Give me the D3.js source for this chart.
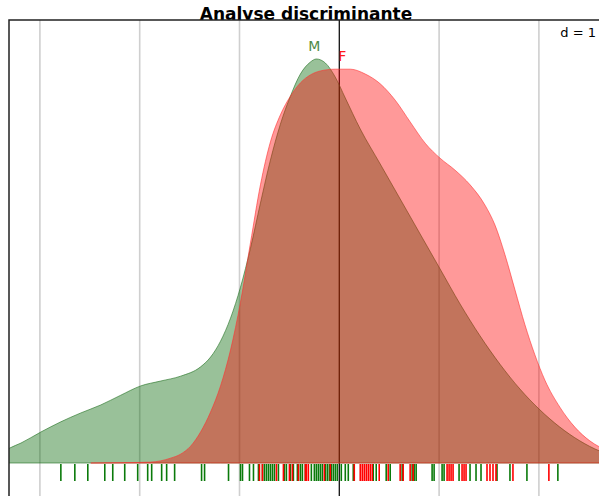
<!DOCTYPE html>
<html>
<head>
<meta charset="utf-8">
<script src="https://cdn.jsdelivr.net/npm/d3@7"></script>
<style>
  body{margin:0;background:#fff;}
  svg{display:block;}
</style>
</head>
<body>
<div id="chart"></div>
<script>
// group labels
var groups = ["M", "F"];
// density curves (x in score units, y in relative density)
var densM_x = [-3.40,-3.30,-3.19,-2.99,-2.79,-2.59,-2.39,-2.19,-1.99,-1.79,-1.59,-1.39,-1.29,-1.19,-1.09,-0.99,-0.89,-0.79,-0.69,-0.59,-0.49,-0.39,-0.29,-0.23,-0.14,-0.04,0.06,0.21,0.41,0.61,0.81,1.01,1.21,1.41,1.61,1.81,2.01,2.21,2.41,2.61,2.70];
var densM_y = [0.020,0.034,0.045,0.070,0.093,0.113,0.131,0.153,0.174,0.185,0.196,0.217,0.239,0.275,0.327,0.397,0.485,0.587,0.684,0.765,0.828,0.878,0.905,0.912,0.903,0.871,0.824,0.754,0.675,0.596,0.517,0.438,0.359,0.287,0.223,0.167,0.120,0.081,0.050,0.027,0.020];
var densF_x = [-2.49,-2.10,-1.89,-1.69,-1.59,-1.49,-1.39,-1.29,-1.19,-1.09,-0.99,-0.89,-0.79,-0.69,-0.59,-0.49,-0.39,-0.29,-0.19,-0.04,0.11,0.26,0.41,0.56,0.71,0.86,1.01,1.16,1.31,1.46,1.56,1.66,1.76,1.86,1.96,2.06,2.21,2.36,2.51,2.61,2.70];
var densF_y = [0.000,0.001,0.002,0.011,0.020,0.038,0.070,0.115,0.174,0.255,0.363,0.497,0.628,0.725,0.786,0.828,0.858,0.876,0.885,0.889,0.889,0.878,0.856,0.819,0.770,0.722,0.688,0.661,0.628,0.582,0.537,0.470,0.391,0.312,0.244,0.187,0.126,0.081,0.050,0.036,0.028];
// individual scores (rug)
var scoresM = [-2.79,-2.65,-2.52,-2.35,-2.27,-2.15,-2.02,-1.92,-1.88,-1.78,-1.73,-1.65,-1.38,-1.35,-1.11,-0.99,-0.97,-0.90,-0.86,-0.81,-0.77,-0.75,-0.73,-0.71,-0.69,-0.67,-0.65,-0.61,-0.55,-0.53,-0.49,-0.46,-0.42,-0.39,-0.37,-0.34,-0.28,-0.25,-0.23,-0.21,-0.19,-0.17,-0.14,-0.12,-0.10,-0.08,-0.06,-0.04,-0.02,0.02,0.06,0.09,0.14,0.34,0.37,0.47,0.51,0.63,0.73,0.75,0.77,0.93,0.95,1.03,1.05,1.20,1.31,1.37,1.42,1.58,1.71,1.88,2.19];
var scoresF = [-0.80,-0.77,-0.63,-0.56,-0.50,-0.47,-0.41,-0.34,-0.33,-0.31,-0.15,-0.09,0.15,0.21,0.23,0.25,0.27,0.29,0.31,0.33,0.40,0.49,0.61,0.64,0.71,0.74,1.08,1.10,1.12,1.14,1.23,1.25,1.27,1.48,1.51,1.54,1.57,1.74,2.10];
// grid ticks (d = 1)
var gridTicks = [-3, -2, -1, 0, 1, 2];
var labelPos = [-0.25, 0.03]; // where group names sit (x in score units)

var svgWidth = 599, svgHeight = 496;
var panel = {left: 9, top: 20, right: 604, bottom: 520};
var base = 463;

var svg = d3.select("#chart").append("svg")
    .attr("width", svgWidth)
    .attr("height", svgHeight);

var x = d3.scaleLinear().domain([0, 1]).range([339.3, 439.1]);
var y = d3.scaleLinear().domain([0, 1]).range([base, base - 443]);

// title (panel is drawn over its lower part)
svg.append("text")
    .attr("x", 306).attr("y", 20)
    .attr("text-anchor", "middle")
    .style("font-family", "DejaVu Sans, sans-serif")
    .style("font-weight", "bold")
    .style("font-size", "17px")
    .text("Analyse discriminante");

svg.append("rect")
    .attr("x", panel.left).attr("y", panel.top)
    .attr("width", panel.right - panel.left).attr("height", panel.bottom - panel.top)
    .attr("fill", "#fff");

svg.append("clipPath").attr("id", "clip").append("rect")
    .attr("x", panel.left).attr("y", panel.top)
    .attr("width", panel.right - panel.left).attr("height", panel.bottom - panel.top);

var g = svg.append("g").attr("clip-path", "url(#clip)");

// grid
g.selectAll(".grid").data(gridTicks).enter().append("line")
    .attr("x1", function(d){ return x(d); }).attr("x2", function(d){ return x(d); })
    .attr("y1", panel.top).attr("y2", panel.bottom)
    .attr("stroke", function(d){ return d === 0 ? "#111" : "#cfcfcf"; })
    .attr("stroke-width", function(d){ return d === 0 ? 1.3 : 1.6; });

var area = d3.area()
    .x(function(d){ return x(d[0]); })
    .y0(y(0))
    .y1(function(d){ return y(d[1]); })
    .curve(d3.curveMonotoneX);

var dens = [d3.zip(densM_x, densM_y), d3.zip(densF_x, densF_y)];
var fills = ["#006400", "#ff0000"];
var lines = ["#1f6f1f", "#ff3030"];

dens.forEach(function(d, i){
  g.append("path")
    .datum(d)
    .attr("d", function(v){ return area(v) + "Z"; })
    .attr("fill", fills[i])
    .attr("fill-opacity", 0.4)
    .attr("stroke", lines[i])
    .attr("stroke-opacity", 0.6)
    .attr("stroke-width", 1);
});

// rug
var rugs = [scoresM, scoresF];
var rugCols = ["#0a7a0a", "#ff0000"];
rugs.forEach(function(s, i){
  g.append("g").selectAll("line").data(s).enter().append("line")
    .attr("x1", function(d){ return x(d); }).attr("x2", function(d){ return x(d); })
    .attr("y1", base + 1).attr("y2", base + 18)
    .attr("stroke", rugCols[i])
    .attr("stroke-width", 1.6);
});

// group labels
var labCols = ["#4f8a45", "#ff1a1a"];
groups.forEach(function(name, i){
  var peak = d3.max(dens[i], function(d){ return d[1]; });
  g.append("text")
    .attr("x", x(labelPos[i]))
    .attr("y", y(peak) - 8)
    .attr("text-anchor", "middle")
    .style("font-family", "DejaVu Sans, sans-serif")
    .style("font-size", "14px")
    .attr("fill", labCols[i])
    .text(name);
});

// scale note
g.append("text")
    .attr("x", 596).attr("y", 37)
    .attr("text-anchor", "end")
    .style("font-family", "DejaVu Sans, sans-serif")
    .style("font-size", "13px")
    .text("d = 1");

// panel border
svg.append("rect")
    .attr("x", panel.left).attr("y", panel.top)
    .attr("width", panel.right - panel.left).attr("height", panel.bottom - panel.top)
    .attr("fill", "none")
    .attr("stroke", "#222")
    .attr("stroke-width", 1.5);
</script>
</body>
</html>
